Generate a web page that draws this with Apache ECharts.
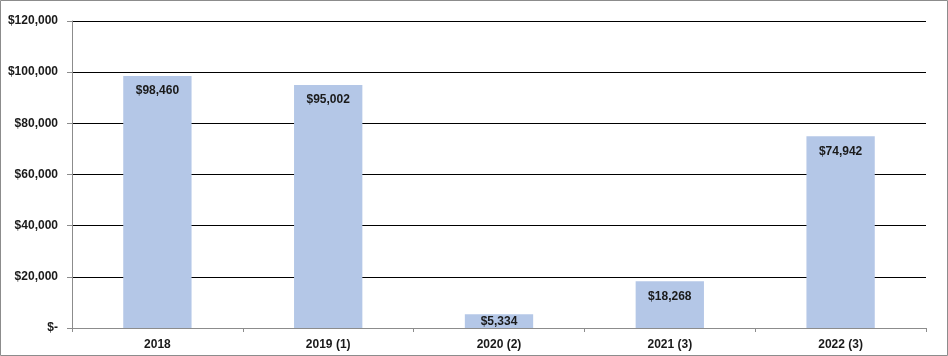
<!DOCTYPE html>
<html>
<head>
<meta charset="utf-8">
<script src="https://cdn.jsdelivr.net/npm/echarts@6/dist/echarts.min.js"></script>
<style>
html,body{margin:0;padding:0;background:#fff;}
#c{width:948px;height:356px;}
</style>
</head>
<body>
<div id="c"></div>
<script>
const categories = ['2018', '2019 (1)', '2020 (2)', '2021 (3)', '2022 (3)'];
const values = [98460, 95002, 5334, 18268, 74942];
const yTicks = [0, 20000, 40000, 60000, 80000, 100000, 120000];

const fmt = v => v === 0 ? '$-' : '$' + v.toLocaleString('en-US');
const font = '"Liberation Sans", Arial, sans-serif';

const chart = echarts.init(document.getElementById('c'), null, {renderer: 'canvas'});
chart.setOption({
  animation: false,
  backgroundColor: '#fff',
  grid: {left: 72, right: 22, top: 21, bottom: 28, containLabel: false},
  graphic: [{
    type: 'rect', shape: {x: 0.5, y: 0.5, width: 947, height: 355},
    style: {fill: 'none', stroke: '#8c8c8c', lineWidth: 1}, silent: true
  }],
  xAxis: {
    type: 'category',
    data: categories,
    axisLine: {lineStyle: {color: '#8c8c8c', width: 1}},
    axisTick: {show: true, length: 4, lineStyle: {color: '#8c8c8c'}},
    axisLabel: {color: '#1a1a1a', fontFamily: font, fontWeight: 700, fontSize: 12, margin: 11}
  },
  yAxis: {
    type: 'value',
    min: yTicks[0], max: yTicks[yTicks.length - 1], interval: yTicks[1] - yTicks[0],
    axisLine: {show: true, lineStyle: {color: '#8c8c8c', width: 1}},
    axisTick: {show: true, length: 5, lineStyle: {color: '#8c8c8c'}},
    splitLine: {show: true, lineStyle: {color: '#000', width: 1}},
    axisLabel: {color: '#1a1a1a', fontFamily: font, fontWeight: 700, fontSize: 12, margin: 14, formatter: fmt}
  },
  series: [{
    type: 'bar',
    barCategoryGap: '60%',
    itemStyle: {color: '#B4C7E7'},
    label: {
      show: true, position: 'insideTop', distance: 9,
      color: '#1a1a1a', fontFamily: font, fontWeight: 700, fontSize: 12,
      formatter: p => fmt(p.value)
    },
    data: values.map(v => v < 10000 ? {value: v, label: {distance: 1}} : v)
  }]
});
</script>
</body>
</html>
